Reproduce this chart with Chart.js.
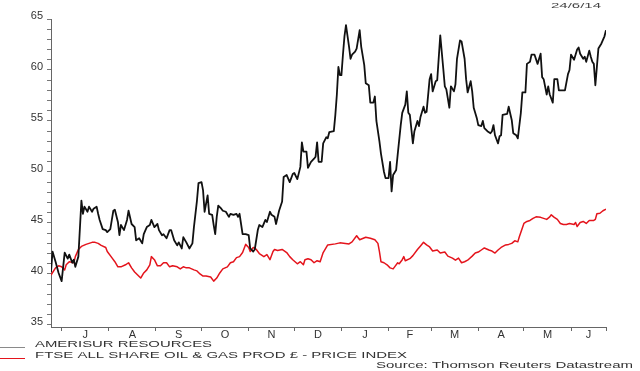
<!DOCTYPE html>
<html><head><meta charset="utf-8">
<script src="https://cdn.jsdelivr.net/npm/chart.js@4"></script>
<style>html,body{margin:0;padding:0;background:#fff}#wrap{width:640px;height:371px;position:relative}</style>
</head><body><div id="wrap"><canvas id="c" width="640" height="371"></canvas></div>
<script>
// Day offsets counted from 24 Jun 2013
const monthLabels = ['J','A','S','O','N','D','J','F','M','A','M','J'];
const monthStarts = [7,38,69,99,130,160,191,222,250,281,311,342,365];
const yTickValues = [35,36,37,38,39,40,41,42,43,44,45,46,47,48,49,50,51,52,53,54,55,56,57,58,59,60,61,62,63,64,65];
const seriesNames = ['AMERISUR RESOURCES','FTSE ALL SHARE OIL & GAS PROD \u00a3 - PRICE INDEX'];
const dateLabel = '24/6/14';
const sourceLabel = 'Source: Thomson Reuters Datastream';

const blackDays = [0,1,3,5,7,9,11,12,14,15,16,18,20,21,22,24,25,27,28,30,31,32,34,36,37,39,40,41,42,44,45,46,48,50,51,53,55,56,58,60,61,63,65,66,68,70,71,73,74,76,78,79,81,83,84,86,87,89,91,93,94,96,97,99,100,101,103,104,106,107,108,109,110,112,113,115,117,118,120,122,123,124,125,126,128,130,131,133,134,136,137,139,141,142,144,145,147,148,150,152,153,155,157,159,160,162,164,165,166,168,169,171,173,174,175,176,178,179,181,182,183,186,187,188,189,190,191,192,193,194,196,197,198,200,201,203,204,206,207,209,210,212,213,214,216,217,219,220,222,223,224,225,227,228,230,231,233,234,235,236,238,239,241,242,243,245,246,247,249,250,251,253,254,256,258,259,260,262,263,265,266,267,269,270,272,273,274,276,277,278,280,281,283,284,285,287,289,290,291,292,294,295,296,297,300,301,303,304,306,307,309,310,312,313,315,316,318,320,322,323,324,326,327,328,330,331,333,334,338,340,341,342,344,346,347,348,350,351,352,354,355,356,357,358,359,360,362,364,365];
const blackValues = [40.2,42.2,41.2,40.1,39.3,42.1,41.5,41.9,41.1,41.4,40.7,41.7,47.2,45.9,46.6,46.1,46.6,46.1,46.4,46.6,45.9,45.3,44.4,44.3,44.1,44.4,45.3,46.2,46.3,45.1,43.8,44.8,44.3,45.3,46.2,44.9,44.6,43.3,43.5,43.0,43.9,44.6,44.8,45.3,44.6,44.9,44.3,43.8,43.9,43.5,44.3,44.3,43.3,42.8,43.1,42.5,43.6,43.1,42.5,43.0,44.6,47.2,48.9,49.0,48.2,46.1,47.7,45.9,45.8,44.8,43.9,45.6,46.7,46.4,46.2,46.1,45.6,45.9,45.8,45.9,45.6,45.9,44.9,43.9,43.9,43.8,42.5,42.2,42.4,44.3,44.8,44.6,45.3,45.1,46.1,45.8,45.6,44.9,46.2,47.1,49.5,49.7,49.0,49.8,49.9,49.3,50.5,52.9,52.0,52.0,50.4,51.0,51.3,51.5,52.9,51.0,51.0,52.8,53.4,53.3,53.9,54.0,55.6,57.6,60.3,59.5,59.5,61.5,63.3,64.4,62.3,61.1,61.5,61.8,62.1,63.9,62.3,60.5,58.7,58.5,56.8,56.8,57.4,55.0,53.0,51.8,50.0,49.4,49.4,51.0,48.1,49.7,50.2,51.7,54.6,55.8,56.6,57.9,55.8,55.6,52.8,54.0,55.0,54.5,55.4,56.4,55.8,55.9,59.1,59.6,57.9,58.9,59.0,63.4,60.1,58.4,58.1,56.3,58.4,57.9,58.6,61.1,62.9,62.8,61.1,59.1,57.8,58.9,57.9,56.3,55.3,54.6,54.5,55.0,54.3,54.0,53.8,54.0,54.6,53.6,52.8,53.5,53.6,55.6,55.7,56.4,55.1,53.8,53.6,53.3,55.8,57.8,57.8,60.6,60.8,61.5,61.5,60.6,61.6,59.3,59.1,57.6,58.4,57.6,56.8,59.1,59.1,58.0,58.0,59.6,60.0,61.5,61.0,62.0,62.2,61.6,61.1,61.3,60.8,61.9,61.3,60.8,60.6,58.5,60.3,62.1,62.6,63.3,63.9];

const redDays = [0,3,5,7,9,10,12,15,16,18,20,23,27,29,31,33,36,37,40,42,44,46,49,51,53,55,57,59,61,63,65,66,68,70,72,74,76,78,80,83,85,87,89,91,94,96,98,100,102,105,107,109,111,113,116,118,120,122,124,126,128,130,131,133,135,137,140,142,144,146,147,149,152,155,157,159,162,164,166,167,169,171,173,175,177,179,182,187,190,196,198,201,203,207,210,213,215,216,217,219,221,223,225,226,228,229,231,232,233,236,238,241,243,245,247,249,251,254,256,259,261,264,266,268,270,272,274,277,279,281,283,285,288,290,292,294,296,299,301,303,305,307,308,311,313,315,317,319,322,326,328,329,331,333,335,337,339,341,344,345,346,348,350,352,354,357,358,359,361,363,365];
const redValues = [39.9,40.6,40.8,40.7,40.4,40.9,41.2,41.1,41.7,42.4,42.7,42.9,43.1,43.1,43.0,42.8,42.6,42.2,41.6,41.2,40.7,40.7,40.9,41.1,40.6,40.2,39.9,39.6,40.1,40.4,40.9,41.7,41.4,40.8,40.8,41.1,41.1,40.7,40.8,40.7,40.5,40.7,40.6,40.6,40.4,40.3,40.0,39.8,39.8,39.7,39.3,39.6,40.1,40.5,40.7,41.1,41.2,41.6,41.7,42.1,42.9,42.6,42.2,42.6,42.4,42.0,41.7,41.9,41.4,42.2,42.4,42.3,42.4,42.1,41.7,41.4,41.0,41.2,40.9,41.4,41.5,41.4,41.1,41.3,41.2,42.1,42.85,42.95,43.05,42.95,43.15,43.75,43.35,43.6,43.5,43.35,43.0,42.2,41.2,41.1,40.9,40.6,40.5,40.7,41.1,41.0,41.4,41.7,41.3,41.5,41.8,42.4,42.75,43.1,42.85,42.65,42.25,42.35,42.05,42.15,41.75,41.55,41.35,41.55,41.1,41.2,41.35,41.75,42.05,42.15,42.35,42.55,42.35,42.25,42.05,42.35,42.6,42.85,42.9,43.0,43.25,43.15,43.65,44.95,45.15,45.25,45.45,45.6,45.55,45.35,45.6,45.8,45.55,45.35,44.95,44.85,44.85,44.95,44.85,45.05,44.65,45.05,45.15,44.95,45.25,45.25,45.35,45.9,45.95,46.2,46.35];

// x ticks: month boundaries carry a tick mark, mid-month positions carry the letter
const xTicks = [];
for (let i = 0; i < monthLabels.length; i++) {
  xTicks.push({ v: monthStarts[i], mark: true, label: '' });
  xTicks.push({ v: (monthStarts[i] + monthStarts[i + 1]) / 2, mark: false, label: monthLabels[i] });
}
xTicks.push({ v: monthStarts[monthStarts.length - 1], mark: true, label: '' });

const FONT = '"Liberation Sans", Arial, Helvetica, sans-serif';
function stretchText(ctx, text, x, baseline, size, targetW, align, color) {
  ctx.save();
  ctx.font = size + 'px ' + FONT;
  const w = ctx.measureText(text).width;
  const sx = targetW / w;
  ctx.translate(align === 'right' ? x - targetW : x, baseline);
  ctx.scale(sx, 1);
  ctx.textAlign = 'left';
  ctx.textBaseline = 'alphabetic';
  ctx.fillStyle = color || '#333';
  ctx.fillText(text, 0, 0);
  ctx.restore();
}

const textPlugin = {
  id: 'texts',
  afterDraw(chart) {
    const ctx = chart.ctx;
    ctx.save();
    ctx.lineWidth = 1;
    ctx.strokeStyle = '#8a8a8a';
    ctx.beginPath(); ctx.moveTo(0, 347.5); ctx.lineTo(25, 347.5); ctx.stroke();
    ctx.strokeStyle = 'rgb(228,20,28)';
    ctx.beginPath(); ctx.moveTo(0, 358.5); ctx.lineTo(25, 358.5); ctx.stroke();
    ctx.restore();
    stretchText(ctx, seriesNames[0], 35, 346.7, 9.5, 177, 'left');
    stretchText(ctx, seriesNames[1], 35, 358.4, 9.5, 372, 'left');
    stretchText(ctx, sourceLabel, 633, 368.3, 9.5, 257, 'right');
    stretchText(ctx, dateLabel, 601, 7.6, 7, 50, 'right', '#444');
  }
};

new Chart(document.getElementById('c'), {
  type: 'line',
  data: {
    datasets: [
      { label: seriesNames[0], data: blackDays.map((d, i) => ({ x: d, y: blackValues[i] })),
        borderColor: '#111', borderWidth: 1.8, pointRadius: 0, tension: 0, borderJoinStyle: 'round', fill: false },
      { label: seriesNames[1], data: redDays.map((d, i) => ({ x: d, y: redValues[i] })),
        borderColor: 'rgb(228,20,28)', borderWidth: 1.5, pointRadius: 0, tension: 0, borderJoinStyle: 'round', fill: false }
    ]
  },
  options: {
    responsive: false,
    animation: false,
    events: [],
    layout: { padding: { top: 19, right: 34, left: 0, bottom: 0 } },
    plugins: { legend: { display: false }, tooltip: { enabled: false }, title: { display: false } },
    scales: {
      x: {
        type: 'linear', min: 0, max: 365, position: 'bottom',
        afterBuildTicks: s => { s.ticks = xTicks.map(t => ({ value: t.v })); },
        afterFit: s => { s.height = 44; },
        grid: { drawOnChartArea: false, drawTicks: true, tickLength: 4, lineWidth: 1,
          tickColor: c => (xTicks[c.index] && xTicks[c.index].mark) ? '#666' : 'rgba(0,0,0,0)' },
        border: { display: true, color: '#666', width: 1 },
        ticks: { autoSkip: false, maxRotation: 0, minRotation: 0, padding: -3, color: '#333',
          font: { family: FONT, size: 11 },
          callback: (v, i) => xTicks[i] ? xTicks[i].label : '' }
      },
      y: {
        type: 'linear', min: 34.8, max: 65, position: 'left',
        afterBuildTicks: s => { s.ticks = yTickValues.map(v => ({ value: v })); },
        afterFit: s => { s.width = 51; },
        grid: { drawOnChartArea: false, drawTicks: true, tickLength: 4, tickColor: '#777', lineWidth: 1 },
        border: { display: true, color: '#666', width: 1 },
        ticks: { autoSkip: false, padding: 4, labelOffset: -3, color: '#333',
          font: { family: FONT, size: 11 },
          callback: v => (v % 5 === 0 ? String(v) : '') }
      }
    }
  },
  plugins: [textPlugin]
});
</script>
</body></html>
